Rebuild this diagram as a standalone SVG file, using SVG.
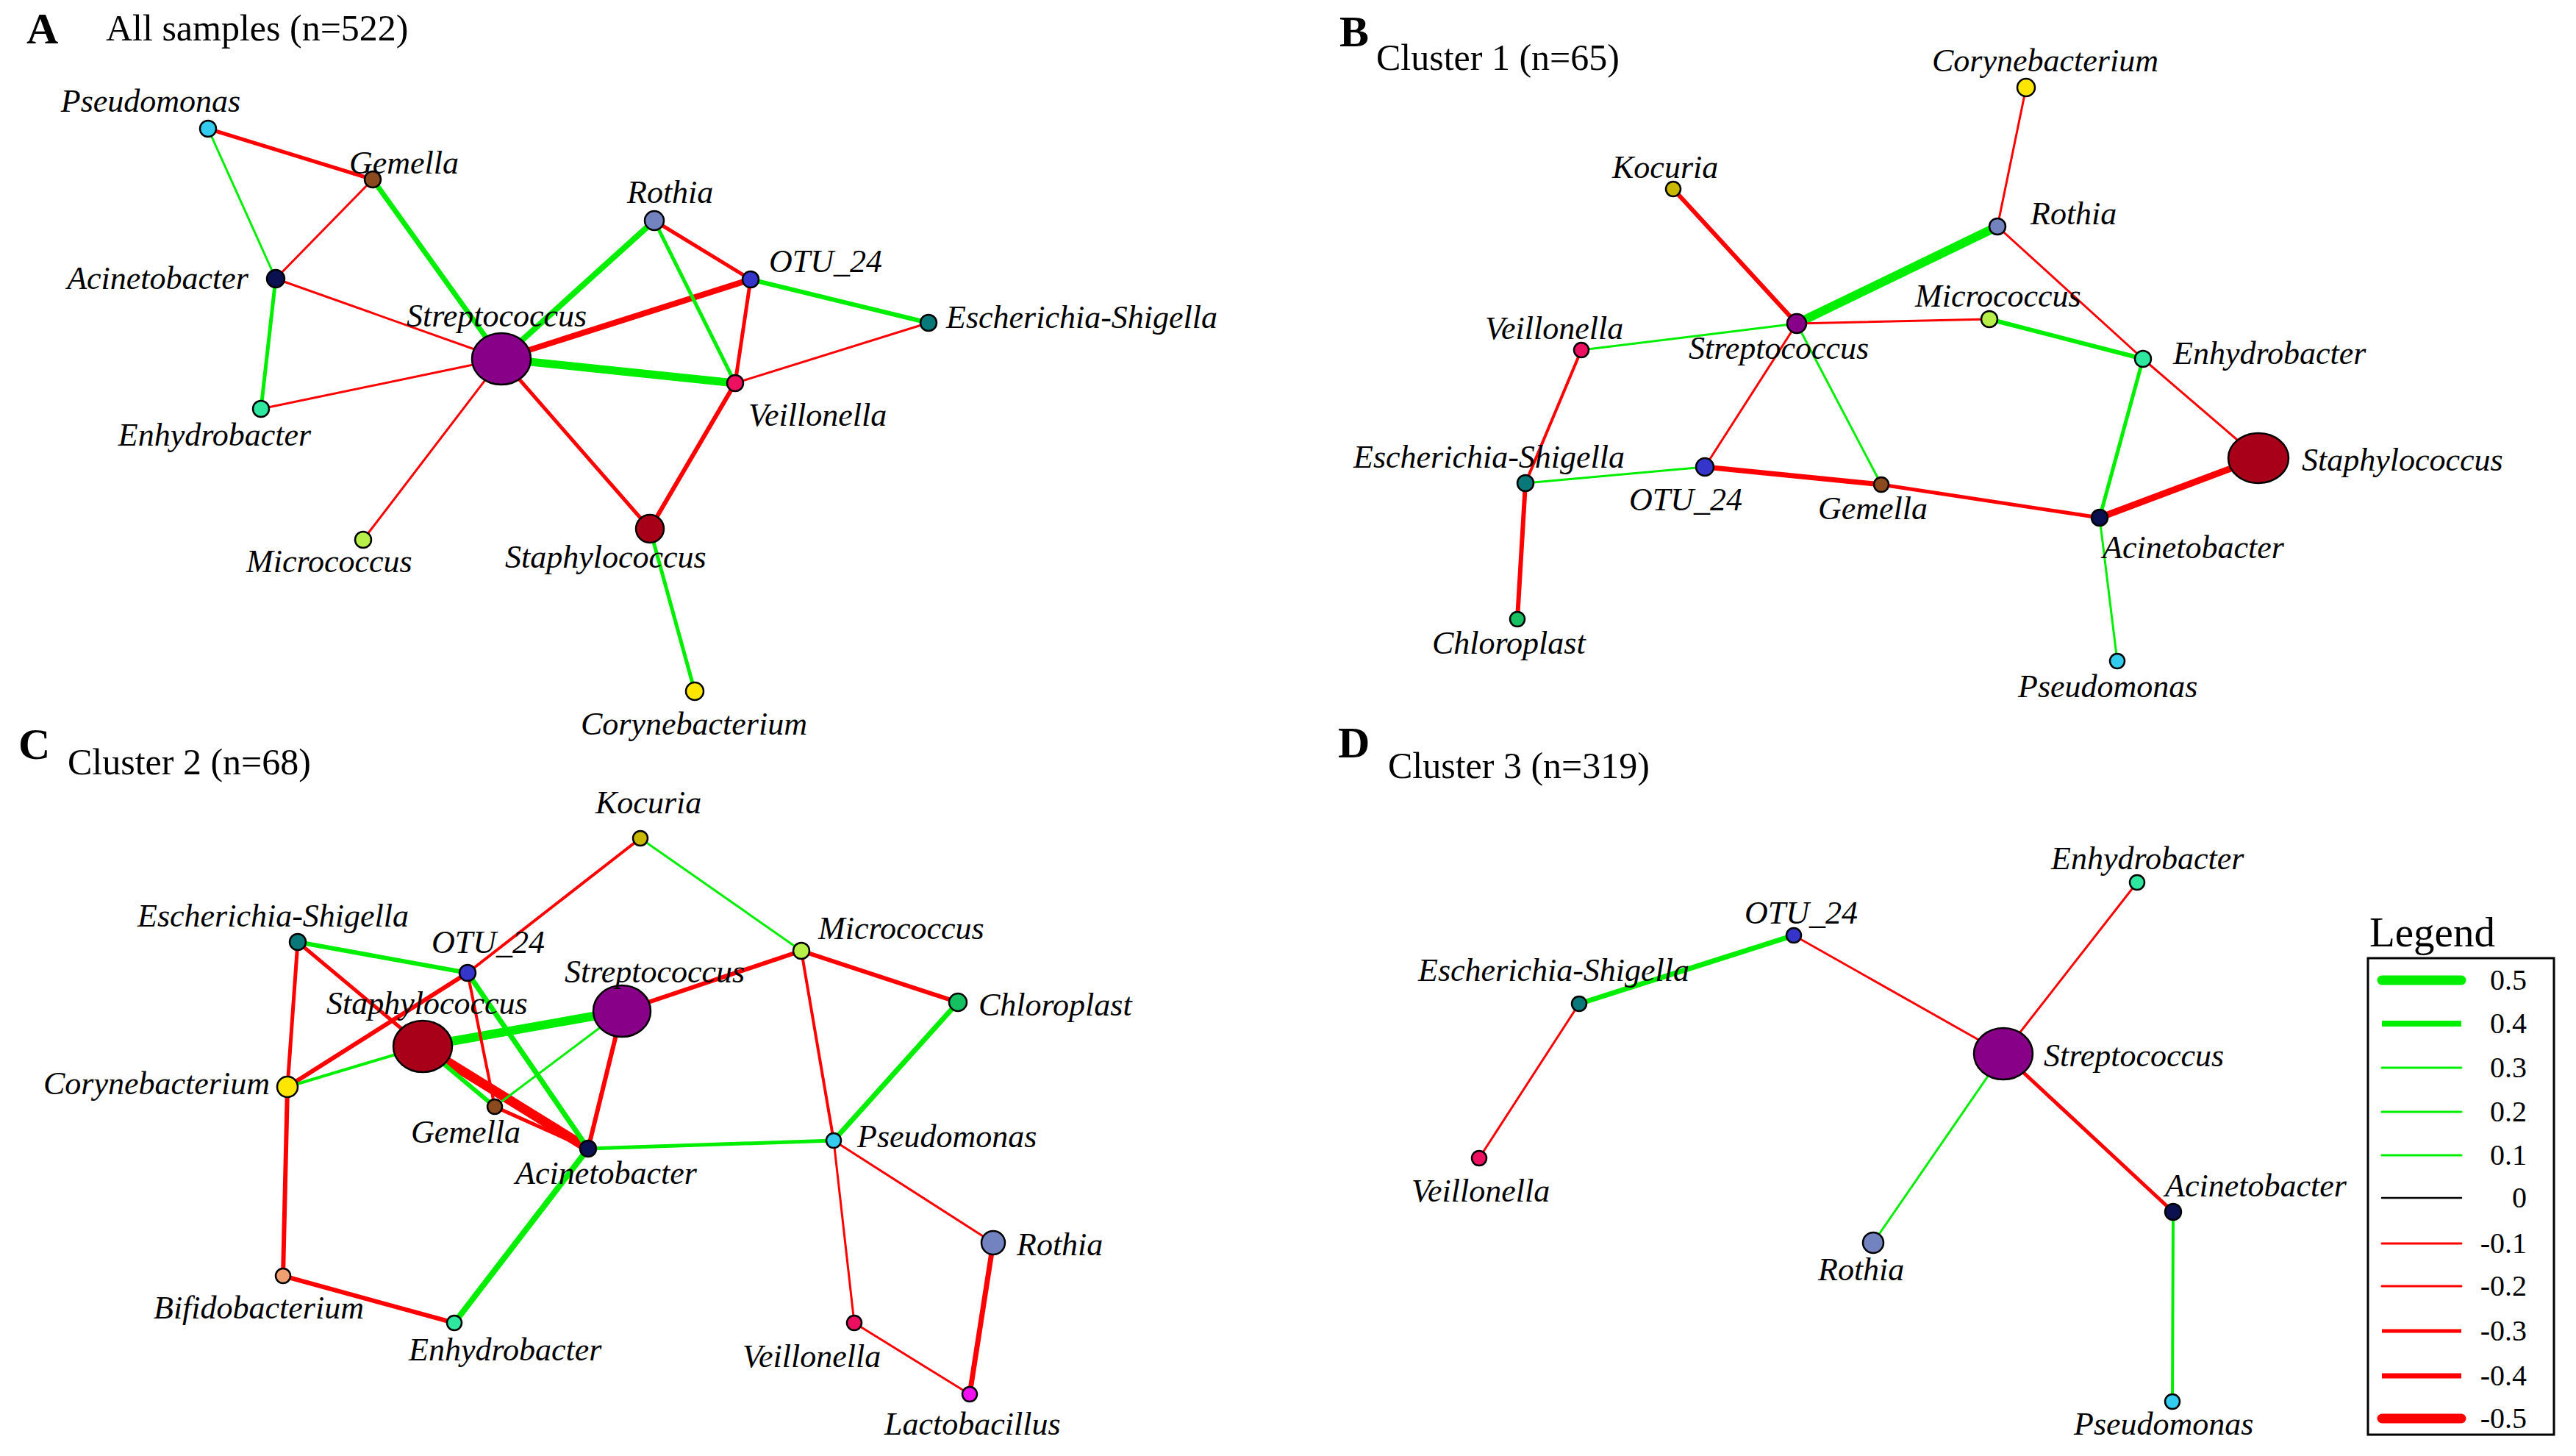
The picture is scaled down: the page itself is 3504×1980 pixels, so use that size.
<svg xmlns="http://www.w3.org/2000/svg" width="3504" height="1980" viewBox="0 0 3504 1980">
<style>
.e line{stroke-linecap:round}
.g{stroke:#00ee00}
.r{stroke:#ff0000}
.n{stroke:#000;stroke-width:2.5}
.lb{font-family:"Liberation Serif","Times New Roman",serif;font-style:italic;font-size:44px;fill:#000}
.tt{font-family:"Liberation Serif","Times New Roman",serif;font-size:50px;fill:#000}
.pl{font-family:"Liberation Serif","Times New Roman",serif;font-weight:bold;font-size:60px;fill:#000}
.lg{font-family:"Liberation Serif","Times New Roman",serif;font-size:40px;fill:#000;text-anchor:end}
</style>
<rect width="3504" height="1980" fill="#fff"/>
<g id="titles">
<text class="pl" x="36" y="59">A</text><text class="tt" x="144" y="55">All samples (n=522)</text>
<text class="pl" x="1822" y="63">B</text><text class="tt" x="1872" y="95">Cluster 1 (n=65)</text>
<text class="pl" x="25" y="1032">C</text><text class="tt" x="92" y="1053">Cluster 2 (n=68)</text>
<text class="pl" x="1820" y="1030">D</text><text class="tt" x="1888" y="1058">Cluster 3 (n=319)</text>
</g>
<g id="connectors" class="e">
<!-- A -->
<line class="r" x1="283" y1="175" x2="507" y2="244" stroke-width="5"/>
<line class="g" x1="283" y1="175" x2="375" y2="379" stroke-width="3"/>
<line class="r" x1="507" y1="244" x2="375" y2="379" stroke-width="3"/>
<line class="g" x1="507" y1="244" x2="682" y2="488" stroke-width="7"/>
<line class="g" x1="375" y1="379" x2="355" y2="556" stroke-width="5"/>
<line class="r" x1="375" y1="379" x2="682" y2="488" stroke-width="3"/>
<line class="r" x1="355" y1="556" x2="682" y2="488" stroke-width="3"/>
<line class="g" x1="682" y1="488" x2="890" y2="300" stroke-width="8"/>
<line class="r" x1="682" y1="488" x2="1021" y2="380" stroke-width="8"/>
<line class="g" x1="682" y1="488" x2="1000" y2="521" stroke-width="11"/>
<line class="r" x1="682" y1="488" x2="494" y2="734" stroke-width="3"/>
<line class="r" x1="682" y1="488" x2="884" y2="719" stroke-width="5"/>
<line class="r" x1="890" y1="300" x2="1021" y2="380" stroke-width="5"/>
<line class="g" x1="890" y1="300" x2="1000" y2="521" stroke-width="5"/>
<line class="r" x1="1021" y1="380" x2="1000" y2="521" stroke-width="5"/>
<line class="g" x1="1021" y1="380" x2="1263" y2="439" stroke-width="6"/>
<line class="r" x1="1263" y1="439" x2="1000" y2="521" stroke-width="3"/>
<line class="r" x1="1000" y1="521" x2="884" y2="719" stroke-width="6"/>
<line class="g" x1="884" y1="719" x2="945" y2="940" stroke-width="5"/>
<!-- B -->
<line class="r" x1="2756" y1="119" x2="2717" y2="308" stroke-width="3"/>
<line class="r" x1="2276" y1="257" x2="2444" y2="440" stroke-width="6"/>
<line class="g" x1="2717" y1="308" x2="2444" y2="440" stroke-width="12"/>
<line class="r" x1="2717" y1="308" x2="2915" y2="488" stroke-width="3"/>
<line class="r" x1="2915" y1="488" x2="3072" y2="623" stroke-width="3"/>
<line class="r" x1="2444" y1="440" x2="2706" y2="434" stroke-width="3"/>
<line class="g" x1="2706" y1="434" x2="2915" y2="488" stroke-width="6"/>
<line class="g" x1="2444" y1="440" x2="2151" y2="476" stroke-width="3"/>
<line class="r" x1="2444" y1="440" x2="2319" y2="635" stroke-width="3"/>
<line class="g" x1="2444" y1="440" x2="2559" y2="659" stroke-width="3"/>
<line class="r" x1="2151" y1="476" x2="2075" y2="657" stroke-width="4"/>
<line class="g" x1="2075" y1="657" x2="2319" y2="635" stroke-width="3"/>
<line class="r" x1="2075" y1="657" x2="2064" y2="842" stroke-width="6"/>
<line class="r" x1="2319" y1="635" x2="2559" y2="659" stroke-width="7"/>
<line class="r" x1="2559" y1="659" x2="2856" y2="704" stroke-width="5"/>
<line class="g" x1="2856" y1="704" x2="2915" y2="488" stroke-width="5"/>
<line class="r" x1="2856" y1="704" x2="3072" y2="623" stroke-width="9"/>
<line class="g" x1="2856" y1="704" x2="2880" y2="899" stroke-width="3"/>
<!-- C -->
<line class="r" x1="871" y1="1140" x2="636" y2="1323" stroke-width="4"/>
<line class="g" x1="871" y1="1140" x2="1090" y2="1293" stroke-width="3"/>
<line class="r" x1="1090" y1="1293" x2="846" y2="1375" stroke-width="6"/>
<line class="r" x1="1090" y1="1293" x2="1303" y2="1363" stroke-width="6"/>
<line class="r" x1="1090" y1="1293" x2="1134" y2="1551" stroke-width="4"/>
<line class="g" x1="1303" y1="1363" x2="1134" y2="1551" stroke-width="7"/>
<line class="r" x1="1134" y1="1551" x2="1351" y2="1690" stroke-width="3"/>
<line class="r" x1="1134" y1="1551" x2="1162" y2="1799" stroke-width="3"/>
<line class="r" x1="1162" y1="1799" x2="1319" y2="1896" stroke-width="3"/>
<line class="r" x1="1351" y1="1690" x2="1319" y2="1896" stroke-width="7"/>
<line class="g" x1="800" y1="1562" x2="1134" y2="1551" stroke-width="5"/>
<line class="g" x1="618" y1="1799" x2="800" y2="1562" stroke-width="8"/>
<line class="r" x1="385" y1="1735" x2="618" y2="1799" stroke-width="6"/>
<line class="r" x1="391" y1="1478" x2="385" y2="1735" stroke-width="6"/>
<line class="r" x1="405" y1="1281" x2="391" y2="1478" stroke-width="5"/>
<line class="g" x1="405" y1="1281" x2="636" y2="1323" stroke-width="6"/>
<line class="r" x1="405" y1="1281" x2="575" y2="1423" stroke-width="5"/>
<line class="r" x1="636" y1="1323" x2="391" y2="1478" stroke-width="6"/>
<line class="g" x1="391" y1="1478" x2="575" y2="1423" stroke-width="4"/>
<line class="g" x1="575" y1="1423" x2="846" y2="1375" stroke-width="12"/>
<line class="r" x1="575" y1="1423" x2="800" y2="1562" stroke-width="13"/>
<line class="g" x1="575" y1="1423" x2="673" y2="1505" stroke-width="6"/>
<line class="r" x1="673" y1="1505" x2="800" y2="1562" stroke-width="5"/>
<line class="r" x1="636" y1="1323" x2="673" y2="1505" stroke-width="4"/>
<line class="g" x1="636" y1="1323" x2="800" y2="1562" stroke-width="7"/>
<line class="g" x1="846" y1="1375" x2="673" y2="1505" stroke-width="3"/>
<line class="r" x1="846" y1="1375" x2="800" y2="1562" stroke-width="6"/>
<!-- D -->
<line class="g" x1="2148" y1="1365" x2="2440" y2="1272" stroke-width="7"/>
<line class="r" x1="2148" y1="1365" x2="2012" y2="1575" stroke-width="3"/>
<line class="r" x1="2440" y1="1272" x2="2725" y2="1433" stroke-width="3"/>
<line class="r" x1="2907" y1="1200" x2="2725" y2="1433" stroke-width="3"/>
<line class="g" x1="2725" y1="1433" x2="2548" y2="1690" stroke-width="3"/>
<line class="r" x1="2725" y1="1433" x2="2956" y2="1648" stroke-width="5"/>
<line class="g" x1="2956" y1="1648" x2="2955" y2="1906" stroke-width="4"/>
</g>
<!-- Panel A nodes -->
<g id="A-Pseudomonas"><circle class="n" cx="283" cy="175" r="11" fill="#33ccee"/><text class="lb" x="205" y="152" text-anchor="middle">Pseudomonas</text></g>
<g id="A-Gemella"><circle class="n" cx="507" cy="244" r="11" fill="#8b4a1e"/><text class="lb" x="475" y="236">Gemella</text></g>
<g id="A-Acinetobacter"><circle class="n" cx="375" cy="379" r="12" fill="#0b1050"/><text class="lb" x="338" y="393" text-anchor="end">Acinetobacter</text></g>
<g id="A-Enhydrobacter"><circle class="n" cx="355" cy="556" r="11" fill="#2ee8a0"/><text class="lb" x="292" y="606" text-anchor="middle">Enhydrobacter</text></g>
<g id="A-Streptococcus"><ellipse class="n" cx="682" cy="488" rx="40" ry="35" fill="#880088"/><text class="lb" x="553" y="444">Streptococcus</text></g>
<g id="A-Rothia"><circle class="n" cx="890" cy="300" r="13" fill="#7283c0"/><text class="lb" x="853" y="276">Rothia</text></g>
<g id="A-OTU_24"><circle class="n" cx="1021" cy="380" r="11" fill="#3535cc"/><text class="lb" x="1046" y="370">OTU_24</text></g>
<g id="A-Escherichia-Shigella"><circle class="n" cx="1263" cy="439" r="11" fill="#087878"/><text class="lb" x="1287" y="446">Escherichia-Shigella</text></g>
<g id="A-Veillonella"><circle class="n" cx="1000" cy="521" r="11" fill="#ee1060"/><text class="lb" x="1018" y="579">Veillonella</text></g>
<g id="A-Micrococcus"><circle class="n" cx="494" cy="734" r="11" fill="#b8f04a"/><text class="lb" x="335" y="778">Micrococcus</text></g>
<g id="A-Staphylococcus"><circle class="n" cx="884" cy="719" r="19" fill="#a80018"/><text class="lb" x="687" y="772">Staphylococcus</text></g>
<g id="A-Corynebacterium"><circle class="n" cx="945" cy="940" r="12" fill="#ffe600"/><text class="lb" x="790" y="999">Corynebacterium</text></g>
<!-- Panel B nodes -->
<g id="B-Corynebacterium"><circle class="n" cx="2756" cy="119" r="12" fill="#ffe600"/><text class="lb" x="2628" y="97">Corynebacterium</text></g>
<g id="B-Kocuria"><circle class="n" cx="2276" cy="257" r="10" fill="#c8b800"/><text class="lb" x="2193" y="242">Kocuria</text></g>
<g id="B-Rothia"><circle class="n" cx="2717" cy="308" r="11" fill="#7283c0"/><text class="lb" x="2762" y="305">Rothia</text></g>
<g id="B-Streptococcus"><circle class="n" cx="2444" cy="440" r="13" fill="#880088"/><text class="lb" x="2297" y="488">Streptococcus</text></g>
<g id="B-Micrococcus"><circle class="n" cx="2706" cy="434" r="11" fill="#b8f04a"/><text class="lb" x="2605" y="417">Micrococcus</text></g>
<g id="B-Enhydrobacter"><circle class="n" cx="2915" cy="488" r="11" fill="#2ee8a0"/><text class="lb" x="2956" y="495">Enhydrobacter</text></g>
<g id="B-Veillonella"><circle class="n" cx="2151" cy="476" r="10" fill="#ee1060"/><text class="lb" x="2020" y="461">Veillonella</text></g>
<g id="B-Escherichia-Shigella"><circle class="n" cx="2075" cy="657" r="11" fill="#087878"/><text class="lb" x="1841" y="636">Escherichia-Shigella</text></g>
<g id="B-OTU_24"><circle class="n" cx="2319" cy="635" r="12" fill="#3535cc"/><text class="lb" x="2216" y="694">OTU_24</text></g>
<g id="B-Gemella"><circle class="n" cx="2559" cy="659" r="10" fill="#8b4a1e"/><text class="lb" x="2473" y="706">Gemella</text></g>
<g id="B-Acinetobacter"><circle class="n" cx="2856" cy="704" r="11" fill="#0b1050"/><text class="lb" x="2860" y="759">Acinetobacter</text></g>
<g id="B-Staphylococcus"><ellipse class="n" cx="3072" cy="623" rx="41" ry="34" fill="#a80018"/><text class="lb" x="3131" y="640">Staphylococcus</text></g>
<g id="B-Chloroplast"><circle class="n" cx="2064" cy="842" r="10" fill="#14c060"/><text class="lb" x="1948" y="889">Chloroplast</text></g>
<g id="B-Pseudomonas"><circle class="n" cx="2880" cy="899" r="10" fill="#33ccee"/><text class="lb" x="2745" y="948">Pseudomonas</text></g>
<!-- Panel C nodes -->
<g id="C-Kocuria"><circle class="n" cx="871" cy="1140" r="10" fill="#c8b800"/><text class="lb" x="810" y="1106">Kocuria</text></g>
<g id="C-Micrococcus"><circle class="n" cx="1090" cy="1293" r="11" fill="#b8f04a"/><text class="lb" x="1113" y="1277">Micrococcus</text></g>
<g id="C-Chloroplast"><circle class="n" cx="1303" cy="1363" r="12" fill="#14c060"/><text class="lb" x="1331" y="1381">Chloroplast</text></g>
<g id="C-Escherichia-Shigella"><circle class="n" cx="405" cy="1281" r="11" fill="#087878"/><text class="lb" x="187" y="1260">Escherichia-Shigella</text></g>
<g id="C-OTU_24"><circle class="n" cx="636" cy="1323" r="11" fill="#3535cc"/><text class="lb" x="587" y="1296">OTU_24</text></g>
<g id="C-Streptococcus"><ellipse class="n" cx="846" cy="1375" rx="39" ry="35" fill="#880088"/><text class="lb" x="768" y="1336">Streptococcus</text></g>
<g id="C-Staphylococcus"><ellipse class="n" cx="575" cy="1423" rx="40" ry="35" fill="#a80018"/><text class="lb" x="444" y="1379">Staphylococcus</text></g>
<g id="C-Corynebacterium"><circle class="n" cx="391" cy="1478" r="14" fill="#ffe600"/><text class="lb" x="59" y="1488">Corynebacterium</text></g>
<g id="C-Gemella"><circle class="n" cx="673" cy="1505" r="10" fill="#8b4a1e"/><text class="lb" x="559" y="1554">Gemella</text></g>
<g id="C-Acinetobacter"><circle class="n" cx="800" cy="1562" r="11" fill="#0b1050"/><text class="lb" x="701" y="1610">Acinetobacter</text></g>
<g id="C-Pseudomonas"><circle class="n" cx="1134" cy="1551" r="10" fill="#33ccee"/><text class="lb" x="1166" y="1560">Pseudomonas</text></g>
<g id="C-Rothia"><circle class="n" cx="1351" cy="1690" r="16" fill="#7283c0"/><text class="lb" x="1383" y="1707">Rothia</text></g>
<g id="C-Bifidobacterium"><circle class="n" cx="385" cy="1735" r="10" fill="#f0a070"/><text class="lb" x="209" y="1793">Bifidobacterium</text></g>
<g id="C-Enhydrobacter"><circle class="n" cx="618" cy="1799" r="10" fill="#2ee8a0"/><text class="lb" x="556" y="1850">Enhydrobacter</text></g>
<g id="C-Veillonella"><circle class="n" cx="1162" cy="1799" r="10" fill="#ee1060"/><text class="lb" x="1010" y="1859">Veillonella</text></g>
<g id="C-Lactobacillus"><circle class="n" cx="1319" cy="1896" r="10" fill="#f010f0"/><text class="lb" x="1203" y="1951">Lactobacillus</text></g>
<!-- Panel D nodes -->
<g id="D-OTU_24"><circle class="n" cx="2440" cy="1272" r="10" fill="#3535cc"/><text class="lb" x="2373" y="1256">OTU_24</text></g>
<g id="D-Escherichia-Shigella"><circle class="n" cx="2148" cy="1365" r="10" fill="#087878"/><text class="lb" x="1929" y="1334">Escherichia-Shigella</text></g>
<g id="D-Veillonella"><circle class="n" cx="2012" cy="1575" r="10" fill="#ee1060"/><text class="lb" x="1920" y="1634">Veillonella</text></g>
<g id="D-Enhydrobacter"><circle class="n" cx="2907" cy="1200" r="10" fill="#2ee8a0"/><text class="lb" x="2790" y="1182">Enhydrobacter</text></g>
<g id="D-Streptococcus"><ellipse class="n" cx="2725" cy="1433" rx="40" ry="35" fill="#880088"/><text class="lb" x="2780" y="1450">Streptococcus</text></g>
<g id="D-Rothia"><circle class="n" cx="2548" cy="1690" r="14" fill="#7283c0"/><text class="lb" x="2473" y="1741">Rothia</text></g>
<g id="D-Acinetobacter"><circle class="n" cx="2956" cy="1648" r="11" fill="#0b1050"/><text class="lb" x="2945" y="1627">Acinetobacter</text></g>
<g id="D-Pseudomonas"><circle class="n" cx="2955" cy="1906" r="10" fill="#33ccee"/><text class="lb" x="2821" y="1951">Pseudomonas</text></g>
<!-- Legend -->
<g id="legend">
<text x="3223" y="1287" style="font-family:'Liberation Serif','Times New Roman',serif;font-size:57px">Legend</text>
<rect x="3221" y="1303" width="253" height="648" fill="none" stroke="#000" stroke-width="3"/>
<g class="e">
<line class="g" x1="3240" y1="1333" x2="3348" y2="1333" stroke-width="13"/>
<line class="g" x1="3240" y1="1392" x2="3348" y2="1392" stroke-width="8" style="stroke-linecap:butt"/>
<line class="g" x1="3240" y1="1452" x2="3348" y2="1452" stroke-width="3"/>
<line class="g" x1="3240" y1="1512" x2="3348" y2="1512" stroke-width="3"/>
<line class="g" x1="3240" y1="1571" x2="3348" y2="1571" stroke-width="3"/>
<line x1="3240" y1="1629" x2="3348" y2="1629" stroke="#000" stroke-width="2.5"/>
<line class="r" x1="3240" y1="1691" x2="3348" y2="1691" stroke-width="3"/>
<line class="r" x1="3240" y1="1749" x2="3348" y2="1749" stroke-width="3"/>
<line class="r" x1="3240" y1="1810" x2="3348" y2="1810" stroke-width="5" style="stroke-linecap:butt"/>
<line class="r" x1="3240" y1="1871" x2="3348" y2="1871" stroke-width="7" style="stroke-linecap:butt"/>
<line class="r" x1="3240" y1="1929" x2="3348" y2="1929" stroke-width="13"/>
</g>
<text class="lg" x="3437" y="1346">0.5</text>
<text class="lg" x="3437" y="1405">0.4</text>
<text class="lg" x="3437" y="1465">0.3</text>
<text class="lg" x="3437" y="1525">0.2</text>
<text class="lg" x="3437" y="1584">0.1</text>
<text class="lg" x="3437" y="1642">0</text>
<text class="lg" x="3437" y="1704">-0.1</text>
<text class="lg" x="3437" y="1762">-0.2</text>
<text class="lg" x="3437" y="1823">-0.3</text>
<text class="lg" x="3437" y="1884">-0.4</text>
<text class="lg" x="3437" y="1942">-0.5</text>
</g>
</svg>
